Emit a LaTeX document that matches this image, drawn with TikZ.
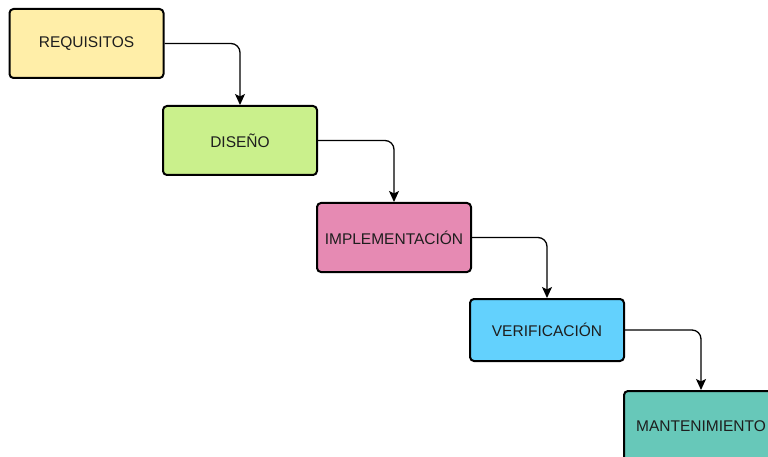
\documentclass[tikz,border=0pt]{standalone}
\usepackage{fontspec}
\setmainfont{Liberation Sans}
\usetikzlibrary{arrows.meta}
\definecolor{cReq}{HTML}{FFEEA8}
\definecolor{cDis}{HTML}{CAF08C}
\definecolor{cImp}{HTML}{E68AB3}
\definecolor{cVer}{HTML}{63D1FD}
\definecolor{cMan}{HTML}{67C8B9}
\definecolor{txt}{HTML}{1E1E1E}
\tikzset{
  phase/.style={draw=black, line width=2pt, rounded corners=4pt,
    minimum width=154pt, minimum height=68pt, inner sep=0pt,
    font=\fontsize{15.5pt}{18pt}\selectfont, text=txt},
  flow/.style={draw=black, line width=1.3pt, rounded corners=9pt,
    -{Stealth[length=11pt,width=10pt,inset=2.5pt]}}
}
\begin{document}
\begin{tikzpicture}[x=1pt,y=-1pt]
\useasboundingbox (0,0) rectangle (768,457);
\node[phase, fill=cReq, minimum height=69pt] (req) at (86.5,43.5) {REQUISITOS};
\node[phase, fill=cDis, minimum height=69pt] (dis) at (240,140.5) {DISEÑO};
\node[phase, fill=cImp, minimum height=69pt] (imp) at (394,237.5) {IMPLEMENTACIÓN};
\node[phase, fill=cVer, minimum height=62pt] (ver) at (547,330) {VERIFICACIÓN};
\node[phase, fill=cMan, minimum height=70pt] (man) at (701,426) {MANTENIMIENTO};
\draw[flow] (req.east) -| (dis.north);
\draw[flow] (dis.east) -| (imp.north);
\draw[flow] (imp.east) -| (ver.north);
\draw[flow] (ver.east) -| (man.north);
\end{tikzpicture}
\end{document}
